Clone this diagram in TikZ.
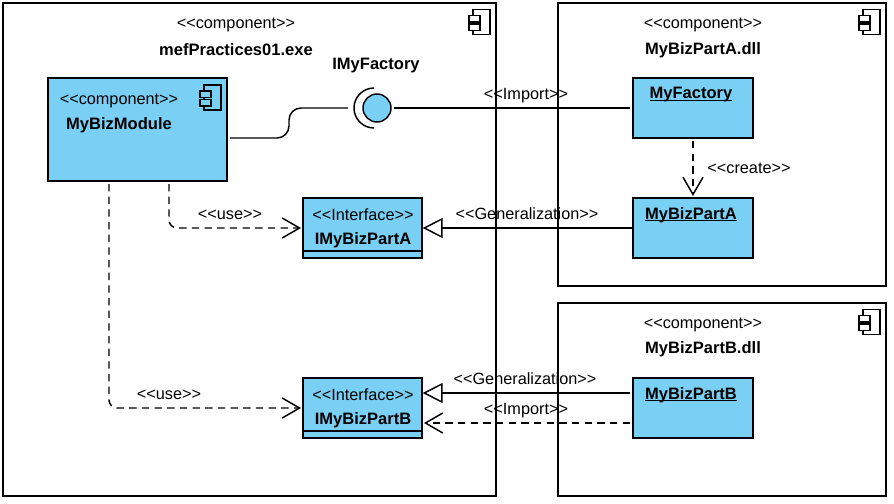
\documentclass[tikz,border=0pt]{standalone}
\usepackage{fontspec}
\setmainfont{Liberation Sans}
\usetikzlibrary{arrows.meta}
\definecolor{boxblue}{HTML}{7ACFF5}
\newcommand{\ste}[1]{<{}<#1>{}>}
\newcommand{\ulname}[1]{\setbox0\hbox{#1}\rlap{\rule[-1.6pt]{\wd0}{0.8pt}}\box0}
\tikzset{
	comp/.style={draw,line width=1.1pt,fill=white,inner sep=0pt,outer sep=0pt},
	part/.style={comp,fill=boxblue},
	txt/.style={inner sep=0pt,yshift=-1.5pt,font=\fontsize{12.2}{14}\selectfont},
	boldtxt/.style={inner sep=0pt,yshift=-1.5pt,font=\fontsize{12.4}{14}\selectfont\bfseries},
	conn/.style={line width=1.1pt,line join=round},
	depend/.style={conn,dash pattern=on 5.5pt off 4pt,rounded corners=6pt,-{Straight Barb[length=13pt,width=15pt,line width=1.1pt]},shorten >=1.5pt},
	general/.style={conn,-{Triangle[open,fill=white,length=15pt,width=15pt,line width=1.1pt]},shorten >=0.5pt},
	compicon/.pic={
		\draw[line width=0.85pt,pic actions] (0,0) rectangle (17,25);
		\draw[line width=0.85pt,pic actions] (-4,6) rectangle (7,12.5) (-4,14.5) rectangle (7,21);
	}
}
\begin{document}
\begin{tikzpicture}[x=0.75pt,y=-0.75pt]
	\useasboundingbox (0,0) rectangle (894,504);
	% containers
	\node[comp,minimum width=493*0.75pt,minimum height=493*0.75pt] (exe) at (249.5,249.5) {};
	\node[comp,minimum width=328*0.75pt,minimum height=283*0.75pt] (dlla) at (722,144.5) {};
	\node[comp,minimum width=328*0.75pt,minimum height=193*0.75pt] (dllb) at (722,399.5) {};
	\pic[fill=white] at (473,9.5) {compicon};
	\pic[fill=white] at (863,9.5) {compicon};
	\pic[fill=white] at (863,309.5) {compicon};
	\node[txt] (exeste) at (236,23) {\ste{component}};
	\node[boldtxt] (exename) at (236,48) {mefPractices01.exe};
	\node[txt] (dllaste) at (703,23) {\ste{component}};
	\node[boldtxt] (dllaname) at (703,48) {MyBizPartA.dll};
	\node[txt] (dllbste) at (703,323) {\ste{component}};
	\node[boldtxt] (dllbname) at (703,347) {MyBizPartB.dll};
	% inner boxes
	\node[part,minimum width=179*0.75pt,minimum height=103*0.75pt] (module) at (137.5,129.5) {};
	\pic[fill=boxblue] at (204,85) {compicon};
	\node[txt] (modste) at (119,98.5) {\ste{component}};
	\node[boldtxt] (modname) at (119,123) {MyBizModule};
	\node[part,minimum width=119*0.75pt,minimum height=60*0.75pt] (ifa) at (362.5,228) {};
	\node[part,minimum width=119*0.75pt,minimum height=60*0.75pt] (ifb) at (362.5,408) {};
	\foreach \i in {ifa,ifb} \draw[line width=1.1pt] (\i.south west)++(0,-7)--++(119,0);
	\node[txt] (ifaste) at (363,213) {\ste{Interface}};
	\node[boldtxt] (ifaname) at (363,238) {IMyBizPartA};
	\node[txt] (ifbste) at (363,393) {\ste{Interface}};
	\node[boldtxt] (ifbname) at (363,418) {IMyBizPartB};
	\node[part,minimum width=120*0.75pt,minimum height=60*0.75pt] (factory) at (693,108) {};
	\node[part,minimum width=120*0.75pt,minimum height=60*0.75pt] (parta) at (693,228) {};
	\node[part,minimum width=120*0.75pt,minimum height=60*0.75pt] (partb) at (693,408) {};
	\node[boldtxt] (facname) at (691,93) {\ulname{MyFactory}};
	\node[boldtxt] (paname) at (691,213) {\ulname{MyBizPartA}};
	\node[boldtxt] (pbname) at (691,393) {\ulname{MyBizPartB}};
	% ball and socket
	\node[part,circle,minimum size=28*0.75pt] (ball) at (377,108) {};
	\draw[conn] (374,128) arc[start angle=90,end angle=270,radius=20];
	\node[boldtxt] (ballname) at (376,64) {IMyFactory};
	% connectors
	\coordinate (modout) at (230,138);
	\coordinate (sockin) at (348,108);
	\coordinate (usea) at (169,184);
	\coordinate (useb) at (109,184);
	\coordinate (facout) at (693,141);
	\coordinate (facin) at (630,108);
	\coordinate (partain) at (693,198);
	\coordinate (partbin) at (630,423);
	\coordinate (ifbin) at (422,423);
	\coordinate (partbgen) at (630,393);
	\coordinate (ifbgen) at (422,393);
	\draw[conn,rounded corners=9pt] (modout)--(289,138)--(289,108)--(sockin);
	\draw[conn,shorten <=2pt] (ball.east)--(facin);
	\draw[depend] (usea)|-(ifa.west);
	\draw[depend] (useb)|-(ifb.west);
	\draw[depend] (facout)--(partain);
	\draw[general] (parta.west)--(ifa.east);
	\draw[general] (partbgen)--(ifbgen);
	\draw[depend] (partbin)--(ifbin);
	% labels
	\node[txt] (impa) at (526,94) {\ste{Import}};
	\node[txt] (crlab) at (749,166.5) {\ste{create}};
	\node[txt] (usealab) at (230,213) {\ste{use}};
	\node[txt] (useblab) at (169,393) {\ste{use}};
	\node[txt] (gena) at (527,212) {\ste{Generalization}};
	\node[txt] (genb) at (525,377) {\ste{Generalization}};
	\node[txt] (impb) at (526,409) {\ste{Import}};
\end{tikzpicture}
\end{document}
